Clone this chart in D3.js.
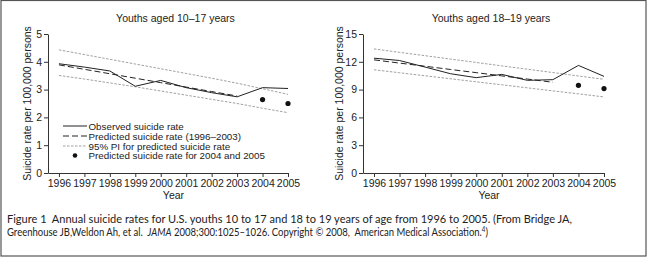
<!DOCTYPE html>
<html>
<head>
<meta charset="utf-8">
<script src="https://cdn.jsdelivr.net/npm/d3@7"></script>
<style>
body{margin:0;background:#fff;}
svg{display:block;font-family:"Liberation Sans",Arial,sans-serif;}
</style>
</head>
<body>
<svg width="648" height="257"></svg>
<script>
// data
var years = [1996,1997,1998,1999,2000,2001,2002,2003,2004,2005];
var predYears = [1996,1997,1998,1999,2000,2001,2002,2003];
var dotYears = [2004,2005];

var obsA = [3.93,3.81,3.67,3.12,3.33,3.07,2.89,2.74,3.07,3.04];
var predA = [3.89,3.73,3.57,3.41,3.25,3.09,2.93,2.77];
var dotA = [2.64,2.50];
var upA = [4.43,4.26,4.09,3.92,3.75,3.58,3.41,3.23,3.03,2.83];
var loA = [3.51,3.38,3.24,3.10,2.95,2.80,2.65,2.50,2.33,2.17];

var obsB = [12.39,12.14,11.43,10.71,10.29,10.64,10.0,10.07,11.61,10.43];
var predB = [12.21,11.86,11.52,11.17,10.83,10.48,10.14,9.79];
var dotB = [9.46,9.11];
var upB = [13.39,13.02,12.66,12.29,11.93,11.56,11.20,10.84,10.47,10.11];
var loB = [11.14,10.82,10.49,10.17,9.84,9.52,9.19,8.86,8.54,8.21];

var yTicksA = [0,1,2,3,4,5];
var yTicksB = [0,3,6,9,12,15];

var legendLabels = ['Observed suicide rate','Predicted suicide rate (1996\u20132003)','95% PI for predicted suicide rate','Predicted suicide rate for 2004 and 2005'];
var caption1 = 'Figure 1\u00a0\u00a0Annual suicide rates for U.S. youths 10 to 17 and 18 to 19 years of age from 1996 to 2005. (From Bridge JA,';
var caption2 = 'Greenhouse JB,Weldon Ah, et al.\u00a0\u00a0';

var svg = d3.select('svg');
var plotTop = 34, plotBottom = 173;

svg.append('rect').attr('x',1).attr('y',0.5).attr('width',645).attr('height',255.5)
	.attr('fill','none').attr('stroke','#555').attr('stroke-width',1.2);

function panel(x0, x1, labelX, title, ticks, ymax, obs, pred, dots, up, lo){
	var xs = d3.scaleLinear().domain([1995.57,2005]).range([x0,x1]);
	var ys = d3.scaleLinear().domain([0,ymax]).range([plotBottom,plotTop]);
	var g = svg.append('g');

	g.append('text').attr('x',(xs(1996)+xs(2005))/2+2).attr('y',22).attr('text-anchor','middle')
		.attr('font-size','10.5px').attr('fill','#222').text(title);

	var ya = g.append('g').attr('transform','translate('+x0+',0)')
		.call(d3.axisLeft(ys).tickValues(ticks).tickFormat(d3.format('d')).tickSize(4).tickPadding(2).tickSizeOuter(0));
	var xa = g.append('g').attr('transform','translate(0,'+plotBottom+')')
		.call(d3.axisBottom(xs).tickValues(years).tickFormat(d3.format('d')).tickSize(4).tickPadding(3).tickSizeOuter(0));
	[ya,xa].forEach(function(a){
		a.select('.domain').attr('stroke','#333');
		a.selectAll('line').attr('stroke','#333');
		a.selectAll('text').attr('font-size','10.5px').attr('fill','#222').attr('font-family','"Liberation Sans",Arial,sans-serif');
	});

	g.append('text').attr('transform','translate('+labelX+','+((plotTop+plotBottom)/2)+') rotate(-90)')
		.attr('text-anchor','middle').attr('font-size','10.5px').attr('fill','#222')
		.text('Suicide rate per 100,000 persons');
	g.append('text').attr('x',(xs(1996)+xs(2005))/2).attr('y',199).attr('text-anchor','middle')
		.attr('font-size','10.5px').attr('fill','#222').text('Year');

	var line = d3.line().x(function(d){return xs(d[0]);}).y(function(d){return ys(d[1]);});
	g.append('path').datum(d3.zip(years,up)).attr('d',line).attr('fill','none')
		.attr('stroke','#888').attr('stroke-width',0.8).attr('stroke-dasharray','2.5,1.5');
	g.append('path').datum(d3.zip(years,lo)).attr('d',line).attr('fill','none')
		.attr('stroke','#888').attr('stroke-width',0.8).attr('stroke-dasharray','2.5,1.5');
	g.append('path').datum(d3.zip(predYears,pred)).attr('d',line).attr('fill','none')
		.attr('stroke','#222').attr('stroke-width',1).attr('stroke-dasharray','6,3');
	g.append('path').datum(d3.zip(years,obs)).attr('d',line).attr('fill','none')
		.attr('stroke','#222').attr('stroke-width',1);
	g.selectAll('circle').data(d3.zip(dotYears,dots)).enter().append('circle')
		.attr('cx',function(d){return xs(d[0]);}).attr('cy',function(d){return ys(d[1]);})
		.attr('r',2.6).attr('fill','#111');
}

panel(48,288,31,'Youths aged 10\u201317 years',yTicksA,5,obsA,predA,dotA,upA,loA);
panel(363,604,343,'Youths aged 18\u201319 years',yTicksB,15,obsB,predB,dotB,upB,loB);

// legend
var lg = svg.append('g');
var lx0 = 63, lx1 = 87, rowsY = [126,136,146,155.5];
lg.append('line').attr('x1',lx0).attr('x2',lx1).attr('y1',rowsY[0]).attr('y2',rowsY[0]).attr('stroke','#222');
lg.append('line').attr('x1',lx0).attr('x2',lx1).attr('y1',rowsY[1]).attr('y2',rowsY[1]).attr('stroke','#222').attr('stroke-dasharray','6,3');
lg.append('line').attr('x1',lx0).attr('x2',lx1).attr('y1',rowsY[2]).attr('y2',rowsY[2]).attr('stroke','#888').attr('stroke-width',0.8).attr('stroke-dasharray','2.5,1.5');
lg.append('circle').attr('cx',75).attr('cy',rowsY[3]).attr('r',2.3).attr('fill','#111');
lg.selectAll('text').data(legendLabels).enter().append('text')
	.attr('x',88.5).attr('y',function(d,i){return rowsY[i]+3.5;})
	.attr('font-size','9.8px').attr('fill','#222').text(function(d){return d;});

// caption
var cap = svg.append('g').attr('font-family','Lato,"Open Sans",sans-serif').attr('font-size','11.3px').attr('fill','#222');
cap.append('text').attr('x',7).attr('y',223).attr('textLength',565).attr('lengthAdjust','spacingAndGlyphs').text(caption1);
var t2 = cap.append('text').attr('x',7).attr('y',236).attr('font-size','10.8px').attr('textLength',481).attr('lengthAdjust','spacingAndGlyphs');
t2.append('tspan').text(caption2);
t2.append('tspan').attr('font-style','italic').text('JAMA');
t2.append('tspan').text(' 2008;300:1025\u20131026. Copyright \u00a9 2008,\u00a0\u00a0American Medical Association.');
t2.append('tspan').attr('font-size','7px').attr('baseline-shift','super').text('4');
t2.append('tspan').text(')');
</script>
</body>
</html>
